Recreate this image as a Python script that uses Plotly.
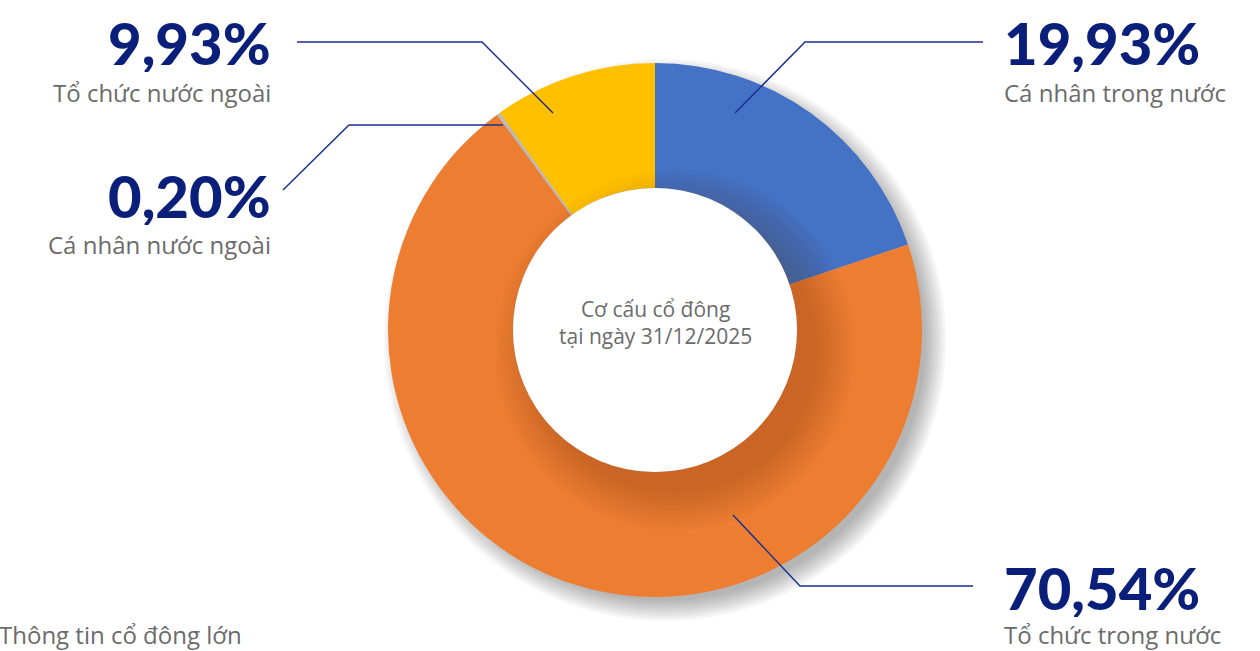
import plotly.graph_objects as go

categories = ["Cá nhân trong nước", "Tổ chức trong nước", "Cá nhân nước ngoài", "Tổ chức nước ngoài"]
values = [19.93, 70.54, 0.20, 9.93]
colors = ["#4472C4", "#ED7D31", "#B9BBBE", "#FFC000"]
value_labels = ["19,93%", "70,54%", "0,20%", "9,93%"]
center_text = "Cơ cấu cổ đông<br>tại ngày 31/12/2025"
footer_text = "Thông tin cổ đông lớn"

W, H = 1260, 651
CX, CY, R, RH = 655, 330, 267, 142
LABEL_FONT = "Open Sans"

def px(x):
    return x / W

def py(y):
    return 1 - y / H

fig = go.Figure()
fig.add_trace(go.Pie(
    labels=categories, values=values, sort=False, direction="clockwise", rotation=0,
    hole=RH / R, marker=dict(colors=colors, line=dict(width=0)),
    textinfo="none", showlegend=False,
    domain=dict(x=[px(CX - R), px(CX + R)], y=[py(CY + R), py(CY - R)]),
))

shapes = []
# soft drop shadow behind the ring (towards bottom-right)
for k in range(9):
    rr = R - 6 + k * 2.5
    off = 10
    shapes.append(dict(type="circle", xref="paper", yref="paper", layer="below",
                       x0=px(CX + off - rr), x1=px(CX + off + rr),
                       y0=py(CY + off + rr), y1=py(CY + off - rr),
                       fillcolor="rgba(0,0,0,0.035)", line=dict(width=0)))
# inner shadow cast by the hole onto the ring
for k in range(12):
    rr = RH + k * 3.5
    off = 20
    shapes.append(dict(type="circle", xref="paper", yref="paper", layer="above",
                       x0=px(CX + off - rr), x1=px(CX + off + rr),
                       y0=py(CY + off + rr), y1=py(CY + off - rr),
                       fillcolor="rgba(90,40,0,0.018)", line=dict(width=0)))
# redraw hole
shapes.append(dict(type="circle", xref="paper", yref="paper", layer="above",
                   x0=px(CX - RH), x1=px(CX + RH), y0=py(CY + RH), y1=py(CY - RH),
                   fillcolor="white", line=dict(width=0)))

leaders = [
    [(735, 113), (805, 42), (983, 42)],
    [(733, 515), (800, 586), (973, 586)],
    [(503, 125), (349, 125), (283, 190)],
    [(553, 113), (482, 42), (297, 42)],
]
for pts in leaders:
    path = "M " + " L ".join(f"{px(x)},{py(y)}" for x, y in pts)
    shapes.append(dict(type="path", xref="paper", yref="paper", path=path,
                       line=dict(color="#1B3190", width=1.5), layer="above"))

ann = []
label_pos = [
    (1005, 42, 92, "left"),
    (1005, 587, 634, "left"),
    (270, 195, 244, "right"),
    (270, 42, 92, "right"),
]
for (x, yv, yl, al), v, c in zip(label_pos, value_labels, categories):
    ann.append(dict(x=px(x), y=py(yv), xref="paper", yref="paper", text=v, showarrow=False,
                    xanchor=al, yanchor="middle", xshift=(-3 if al == "left" else 3),
                    height=60,
                    font=dict(family="Lato", size=58, color="#0A1F7A", weight=900)))
    ann.append(dict(x=px(x), y=py(yl), xref="paper", yref="paper", text=c, showarrow=False,
                    xanchor=al, yanchor="middle", xshift=(-3 if al == "left" else 3),
                    font=dict(family=LABEL_FONT, size=24, color="#6B6B6B")))
ann.append(dict(x=px(CX), y=py(322), xref="paper", yref="paper", text=center_text, showarrow=False,
                xanchor="center", yanchor="middle",
                font=dict(family=LABEL_FONT, size=21, color="#6B6B6B")))
ann.append(dict(x=0, y=py(634), xref="paper", yref="paper", text=footer_text, showarrow=False,
                xanchor="left", yanchor="middle", xshift=-3,
                font=dict(family=LABEL_FONT, size=24, color="#6B6B6B")))

fig.update_layout(width=W, height=H, margin=dict(l=0, r=0, t=0, b=0),
                  paper_bgcolor="white", plot_bgcolor="white",
                  shapes=shapes, annotations=ann)
fig.write_html("out.html", config={"displayModeBar": False},
               post_script="document.body.style.margin='0';document.body.style.overflow='hidden';")
